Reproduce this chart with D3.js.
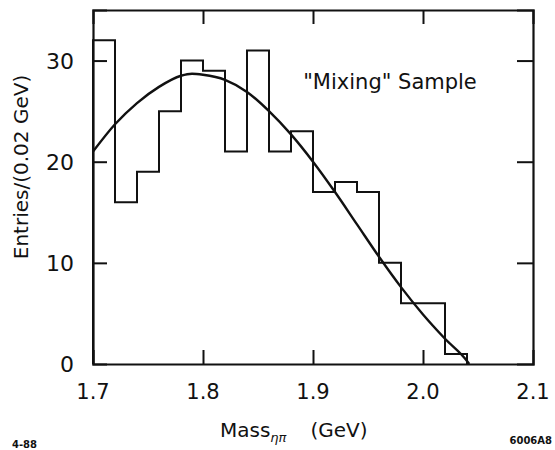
<!DOCTYPE html>
<html>
<head>
<meta charset="utf-8">
<script src="https://cdn.jsdelivr.net/npm/d3@7/dist/d3.min.js"></script>
<style>
  body { margin: 0; background: #fff; }
  svg text { font-family: "DejaVu Sans", "Liberation Sans", sans-serif; fill: #111; }
</style>
</head>
<body>
<div id="chart"></div>
<script>
// histogram: bin lower edges (GeV) and entries per 0.02 GeV
const binEdges = [1.70, 1.72, 1.74, 1.76, 1.78, 1.80, 1.82, 1.84, 1.86, 1.88,
                  1.90, 1.92, 1.94, 1.96, 1.98, 2.00, 2.02];
const entries  = [32, 16, 19, 25, 30, 29, 21, 31, 21, 23, 17, 18, 17, 10, 6, 6, 1];
const binWidth = 0.02;

// fitted curve
const curveMass = [1.70, 1.72, 1.74, 1.76, 1.78, 1.79, 1.80, 1.82, 1.84, 1.86, 1.88,
                   1.90, 1.92, 1.94, 1.96, 1.98, 2.00, 2.02, 2.04, 2.042];
const curveVal  = [21.0, 23.7, 25.8, 27.4, 28.5, 28.7, 28.6, 28.1, 26.9, 25.0, 22.7,
                   20.0, 17.0, 13.8, 10.6, 7.6, 4.9, 2.5, 0.3, 0.0];

const xTicks = [1.7, 1.8, 1.9, 2.0, 2.1];
const yTicks = [0, 10, 20, 30];

const width = 555, height = 450;
const margin = { top: 10, right: 22, bottom: 86, left: 93 };

const svg = d3.select('#chart').append('svg')
    .attr('width', width)
    .attr('height', height);

const x = d3.scaleLinear().domain([1.7, 2.1]).range([margin.left, width - margin.right]);
const y = d3.scaleLinear().domain([0, 35]).range([height - margin.bottom, margin.top]);

const ink = '#111';

// histogram as a step outline
const steps = [];
binEdges.forEach((e, i) => {
    steps.push([e, entries[i]]);
    steps.push([e + binWidth, entries[i]]);
});
const histLine = d3.line().x(d => x(d[0])).y(d => y(d[1]));
svg.append('path')
    .attr('d', histLine([[binEdges[0], 0], ...steps, [binEdges[binEdges.length - 1] + binWidth, 0]]))
    .attr('fill', 'none')
    .attr('stroke', ink)
    .attr('stroke-width', 2);

// curve
svg.append('path')
    .datum(curveMass.map((m, i) => [m, curveVal[i]]))
    .attr('d', d3.line().x(d => x(d[0])).y(d => y(d[1])).curve(d3.curveMonotoneX))
    .attr('fill', 'none')
    .attr('stroke', ink)
    .attr('stroke-width', 2.4);

// frame and inward ticks
const tickLen = 14;
const axBottom = svg.append('g')
    .attr('transform', `translate(0,${y(0)})`)
    .call(d3.axisTop(x).tickValues(xTicks.slice(1, -1)).tickSize(tickLen).tickFormat(''));
const axTop = svg.append('g')
    .attr('transform', `translate(0,${y(35)})`)
    .call(d3.axisBottom(x).tickValues(xTicks.slice(1, -1)).tickSize(tickLen).tickFormat(''));
const axLeft = svg.append('g')
    .attr('transform', `translate(${x(1.7)},0)`)
    .call(d3.axisRight(y).tickValues(yTicks.slice(1)).tickSize(tickLen).tickFormat(''));
const axRight = svg.append('g')
    .attr('transform', `translate(${x(2.1)},0)`)
    .call(d3.axisLeft(y).tickValues(yTicks.slice(1)).tickSize(tickLen + 2).tickFormat(''));

[axBottom, axTop, axLeft, axRight].forEach(g => {
    g.select('.domain').attr('stroke', ink).attr('stroke-width', 2.2);
    g.selectAll('.tick line').attr('stroke', ink).attr('stroke-width', 2);
});

// tick labels
svg.append('g').selectAll('text')
    .data(xTicks)
    .join('text')
    .attr('x', d => x(d))
    .attr('y', y(0) + 35)
    .attr('text-anchor', 'middle')
    .attr('font-size', 21)
    .text(d => d.toFixed(1));

svg.append('g').selectAll('text')
    .data(yTicks)
    .join('text')
    .attr('x', x(1.7) - 19)
    .attr('y', d => y(d) + 8)
    .attr('text-anchor', 'end')
    .attr('font-size', 22)
    .text(d => d);

// axis titles
const xt = svg.append('text')
    .attr('x', 220)
    .attr('y', 437)
    .attr('font-size', 20);
xt.append('tspan').text('Mass');
xt.append('tspan').attr('font-size', 13).attr('dy', 5).attr('font-style', 'italic').text('ηπ');
xt.append('tspan').attr('dy', -5).attr('dx', 24).text('(GeV)');

svg.append('text')
    .attr('transform', `translate(28,167) rotate(-90)`)
    .attr('text-anchor', 'middle')
    .attr('font-size', 20)
    .text('Entries/(0.02 GeV)');

svg.append('text')
    .attr('x', 390)
    .attr('y', 89)
    .attr('text-anchor', 'middle')
    .attr('font-size', 21)
    .text('"Mixing" Sample');

// plate labels
svg.append('text')
    .attr('x', 12).attr('y', 448)
    .attr('font-size', 10).attr('font-weight', 'bold')
    .text('4-88');
svg.append('text')
    .attr('x', 552).attr('y', 444)
    .attr('text-anchor', 'end')
    .attr('font-size', 10).attr('font-weight', 'bold')
    .text('6006A8');
</script>
</body>
</html>
